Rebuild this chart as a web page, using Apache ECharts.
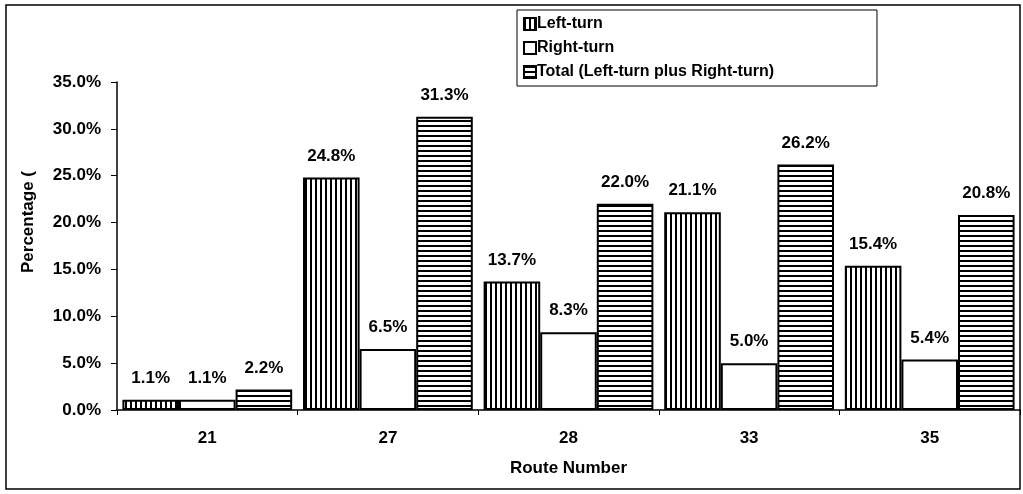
<!DOCTYPE html>
<html>
<head>
<meta charset="utf-8">
<script src="https://cdn.jsdelivr.net/npm/echarts@6/dist/echarts.min.js"></script>
<style>
  html, body { margin: 0; padding: 0; background: #fff; }
  #chart { width: 1023px; height: 494px; }
</style>
</head>
<body>
<div id="chart"></div>
<script>
// 数据
const routes = ['21', '27', '28', '33', '35'];
const leftTurn = [1.1, 24.8, 13.7, 21.1, 15.4];
const rightTurn = [1.1, 6.5, 8.3, 5.0, 5.4];
const total = [2.2, 31.3, 22.0, 26.2, 20.8];
const yTicks = { min: 0, max: 35, interval: 5 };

// 条纹填充
function stripes(vertical) {
  const c = document.createElement('canvas');
  c.width = 5; c.height = 5;
  const ctx = c.getContext('2d');
  ctx.fillStyle = '#fff';
  ctx.fillRect(0, 0, 5, 5);
  ctx.fillStyle = '#000';
  if (vertical) ctx.fillRect(0, 0, 2, 5);
  else ctx.fillRect(0, 0, 5, 2);
  return { image: c, repeat: 'repeat' };
}

const font = 'Liberation Sans, Arial, sans-serif';
const label = {
  show: true,
  position: 'top',
  distance: 13,
  color: '#000',
  fontFamily: font,
  fontWeight: 'bold',
  fontSize: 17,
  formatter: p => p.value.toFixed(1) + '%'
};
const border = { borderColor: '#000', borderWidth: 2 };

const chart = echarts.init(document.getElementById('chart'));
chart.setOption({
  animation: false,
  backgroundColor: '#fff',
  grid: { left: 117, right: 3, top: 82, bottom: 84 },
  legend: {
    left: 517,
    top: 10,
    orient: 'vertical',
    itemGap: 8,
    itemWidth: 12,
    itemHeight: 12,
    icon: 'rect',
    padding: [6, 103, 6, 6],
    borderColor: '#000',
    borderWidth: 1,
    textStyle: { fontFamily: font, fontWeight: 'bold', fontSize: 16, color: '#000', padding: [0, 0, 0, -4] },
    data: ['Left-turn', 'Right-turn', 'Total (Left-turn plus Right-turn)']
  },
  xAxis: {
    type: 'category',
    data: routes,
    name: 'Route Number',
    nameLocation: 'middle',
    nameGap: 50,
    nameTextStyle: { fontFamily: font, fontWeight: 'bold', fontSize: 17, color: '#000' },
    axisLine: { lineStyle: { color: '#000', width: 1.5 } },
    axisTick: { show: true, length: 5, lineStyle: { color: '#000' } },
    axisLabel: { margin: 20, fontFamily: font, fontWeight: 'bold', fontSize: 17, color: '#000' }
  },
  yAxis: {
    type: 'value',
    min: yTicks.min,
    max: yTicks.max,
    interval: yTicks.interval,
    splitLine: { show: false },
    axisLine: { show: true, lineStyle: { color: '#000', width: 1.5 } },
    axisTick: { show: true, length: 6, lineStyle: { color: '#000' } },
    axisLabel: {
      margin: 16,
      fontFamily: font, fontWeight: 'bold', fontSize: 17, color: '#000',
      formatter: v => v.toFixed(1) + '%'
    }
  },
  graphic: [
    {
      type: 'rect',
      shape: { x: 6, y: 5, width: 1014, height: 484 },
      style: { fill: 'none', stroke: '#000', lineWidth: 1.5 },
      silent: true
    },
    {
      type: 'text',
      x: 28, y: 222,
      rotation: Math.PI / 2,
      style: {
        text: 'Percentage (',
        fontFamily: font, fontWeight: 'bold', fontSize: 17, fill: '#000',
        align: 'center', verticalAlign: 'middle'
      }
    }
  ],
  series: [
    {
      name: 'Left-turn', type: 'bar', data: leftTurn,
      barGap: '0%', barCategoryGap: '6%',
      itemStyle: Object.assign({ color: stripes(true) }, border),
      label: label
    },
    {
      name: 'Right-turn', type: 'bar', data: rightTurn,
      itemStyle: Object.assign({ color: '#fff' }, border),
      label: label
    },
    {
      name: 'Total (Left-turn plus Right-turn)', type: 'bar', data: total,
      itemStyle: Object.assign({ color: stripes(false) }, border),
      label: label
    }
  ]
});
</script>
</body>
</html>
